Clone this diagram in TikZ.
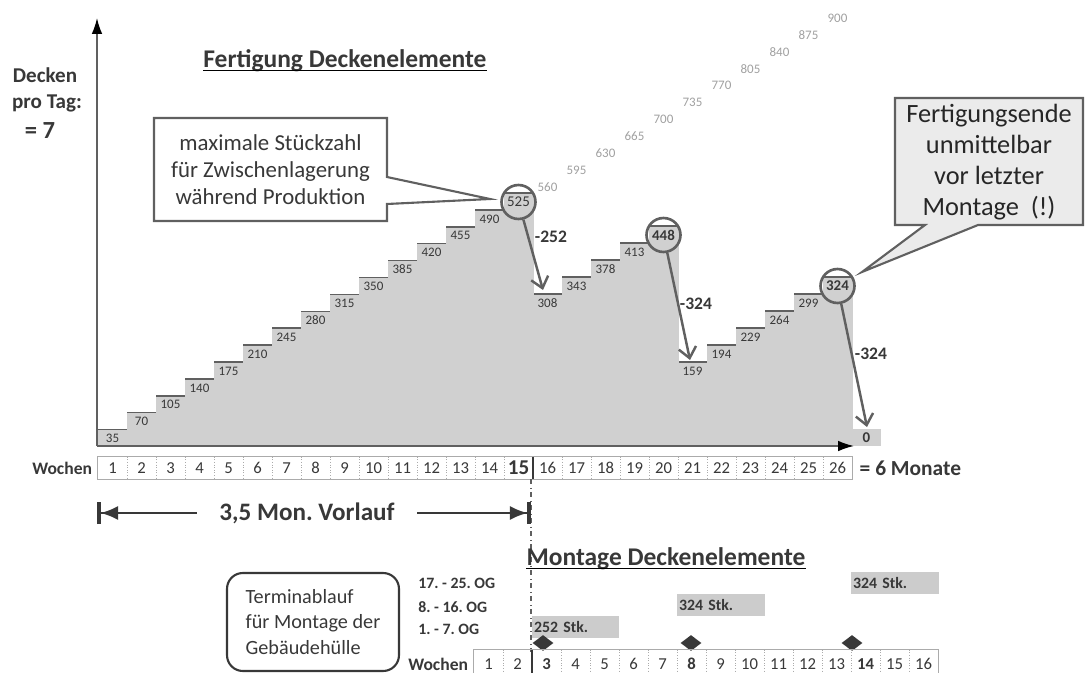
\documentclass[tikz,border=0pt]{standalone}
\usepackage{fontspec}
\setmainfont{Carlito}
\usetikzlibrary{arrows.meta,positioning,shapes.geometric}

\definecolor{barfill}{HTML}{D0D0D0}
\definecolor{linegray}{HTML}{606060}
\definecolor{txtgray}{HTML}{383838}
\definecolor{ghostgray}{HTML}{A0A0A0}
\definecolor{notefill}{HTML}{EBEBEB}
\definecolor{ganttfill}{HTML}{CCCCCC}
\definecolor{cellgray}{HTML}{ABABAB}

\newcommand{\fs}[2]{\fontsize{#1}{#2}\selectfont}

\begin{document}
\frenchspacing
\begin{tikzpicture}[x=0.02cm,y=-0.02cm,
    barlbl/.style={font=\fs{7.4}{8},text=txtgray,inner sep=0pt},
    peaklbl/.style={font=\fs{8.5}{9},text=txtgray,inner sep=0pt},
    ghost/.style={font=\fs{7.4}{8},text=ghostgray,inner sep=0pt},
    steptop/.style={draw=linegray,line width=0.9pt},
    ring/.style={circle,draw=linegray,line width=1.5pt,minimum size=0.68cm,inner sep=0pt},
    drop/.style={draw=linegray,line width=1.4pt,-{Straight Barb[length=6pt,width=10pt]}},
    dropval/.style={font=\bfseries\fs{10}{12},text=txtgray,inner sep=0pt},
    wk/.style={minimum width=0.58cm,minimum height=0.44cm,inner sep=0pt,font=\fs{9.5}{10},text=txtgray},
    sep/.style={draw=cellgray,densely dotted,line width=0.5pt},
    lbl/.style={font=\bfseries\fs{#1}{#1},text=txtgray,inner sep=0pt},
    note/.style={draw=linegray,line width=1.2pt},
    gantt/.style={fill=ganttfill,anchor=north west,minimum height=0.44cm,inner xsep=1pt,inner ysep=0pt,align=left,font=\bfseries\fs{9}{10},text=txtgray},
    og/.style={anchor=west,inner sep=0pt,font=\bfseries\fs{9}{10},text=txtgray},
    vor/.style={draw=txtgray,line width=1.2pt}
  ]
  \useasboundingbox (0,0) rectangle (1086,673);
  \clip (0,0) rectangle (1086,673);

  % Stufen der Fertigung
  \foreach \w in {1,...,14}{
    \pgfmathsetmacro\xl{98+29*(\w-1)}
    \pgfmathsetmacro\yt{429.6-16.9*(\w-1)}
    \pgfmathtruncatemacro\v{35*\w}
    \fill[barfill] (\xl,\yt) rectangle (\xl+29.5,446);
    \draw[steptop] (\xl,\yt) -- (\xl+29,\yt);
    \node[barlbl] (b\w) at (\xl+14.5,\yt+9) {\v};
  }
  \foreach \w/\v/\yt in {16/308/294,17/343/277,18/378/260,19/413/243,
                         21/159/362,22/194/345,23/229/328,24/264/311,25/299/294}{
    \pgfmathsetmacro\xl{98+29*(\w-1)}
    \fill[barfill] (\xl,\yt) rectangle (\xl+29.5,446);
    \draw[steptop] (\xl,\yt) -- (\xl+29,\yt);
    \node[barlbl] (b\w) at (\xl+14.5,\yt+9) {\v};
  }
  \foreach \w/\v/\yt/\wt in {15/525/193/\mdseries,20/448/226/\bfseries,26/324/277/\bfseries}{
    \pgfmathsetmacro\xl{98+29*(\w-1)}
    \fill[barfill] (\xl,\yt) rectangle (\xl+29.5,446);
    \draw[steptop] (\xl,\yt) -- (\xl+29,\yt);
    \node[peaklbl] (b\w) at (\xl+14.5,\yt+9) {\wt\v};
  }
  \fill[barfill] (852,429) rectangle (881,446);
  \node[peaklbl] (b27) at (866.5,438) {\bfseries 0};

  % Achsen
  \coordinate (o) at (97,446);
  \coordinate (ytop) at (97,18);
  \coordinate (xend) at (854,446);
  \draw[linegray,line width=0.9pt,-{Latex[length=9pt,width=6pt,color=black]}] (o) -- (ytop);
  \draw[linegray,line width=0.9pt,-{Latex[length=9pt,width=6pt,color=black]}] (o) -- (xend);

  % theoretische Werte ohne Montage
  \foreach \w/\v in {16/560,17/595,18/630,19/665,20/700,21/735,22/770,23/805,24/840,25/875,26/900}
    \node[ghost] (g\w) at ({98+29*(\w-0.5)},{187-16.9*(\w-16)}) {\v};

  \node[lbl=12,anchor=base] (dk) at (45,82) {Decken};
  \node[lbl=12,anchor=base] (pt) at (47,108) {pro Tag:};
  \node[lbl=14,anchor=base] (sv) at (40,138) {= 7};

  \node[lbl=14.5,anchor=base] (ft) at (345,67) {Fertigung Deckenelemente};
  \draw[line width=0.8pt] ([yshift=-2pt]ft.base west) -- ([yshift=-2pt]ft.base east);

  % Hinweise
  \coordinate (t1) at (490,199);
  \draw[note,fill=white] (154,118) -- (387,118) -- (387,177) -- (t1) -- (387,204) -- (387,221) -- (154,221) -- cycle;
  \node[align=center,font=\fs{13}{15.5},text=txtgray] (n1) at (270.5,169.5) {maximale Stückzahl\\für Zwischenlagerung\\während Produktion};

  \coordinate (t2) at (862,272);
  \draw[note,fill=notefill] (895,98) -- (1083,98) -- (1083,225) -- (978,225) -- (t2) -- (925,225) -- (895,225) -- cycle;
  \node[align=center,font=\fs{15}{17.6},text=black!85] (n2) at (989,162) {Fertigungsende\\unmittelbar\\vor letzter\\Montage~~(!)};

  % Montageabzug
  \foreach \w in {15,20,26}
    \node[ring] (c\w) at (b\w) {};
  \coordinate (a16) at (543,290);
  \coordinate (a21) at (690,360);
  \coordinate (a27) at (867,427);
  \draw[drop] (c15) -- (a16);
  \draw[drop] (c20) -- (a21);
  \draw[drop] (c26) -- (a27);
  \node[dropval] (d1) at (551,237) {-252};
  \node[dropval] (d2) at (696,304) {-324};
  \node[dropval] (d3) at (871,354) {-324};

  % Wochen Fertigung
  \foreach \w in {1,...,26}
    \node[wk] (w\w) at ({98+29*(\w-0.5)},468) {\ifnum\w=15 \bfseries\fs{12}{12}\fi\w};
  \foreach \w in {1,...,25}
    \draw[sep] (w\w.north east) -- (w\w.south east);
  \draw[cellgray,line width=0.6pt] (w1.north west) rectangle (w26.south east);
  \draw[txtgray,line width=1.2pt] (w15.north east) -- (w15.south east);
  \node[lbl=10] (wl) [left=3pt of w1] {Wochen};
  \node[lbl=12.2] (mon) [right=4pt of w26] {= 6 Monate};

  % Vorlauf
  \coordinate (dd1) at (531,479);
  \coordinate (dd2) at (531,652);
  \draw[linegray,dash dot,line width=0.6pt] (dd1) -- (dd2);
  \coordinate (vl) at (97,513);
  \coordinate (vr) at (531,513);
  \node[lbl=14.3,inner xsep=0.45cm] (vt) at (307,513) {3,5 Mon. Vorlauf};
  \draw[vor,-{Latex[length=10pt,width=8pt]Bar[width=0.44cm,line width=2pt]}] (vt) -- (vl);
  \draw[vor,-{Latex[length=10pt,width=8pt]Bar[width=0.44cm,line width=2pt]}] (vt) -- (vr);

  % Montage
  \node[lbl=14.5,anchor=base] (mt) at (666,565) {Montage Deckenelemente};
  \draw[line width=0.8pt] ([yshift=-2pt]mt.base west) -- ([yshift=-2pt]mt.base east);

  \node[draw=txtgray,line width=1.2pt,rounded corners=9pt,minimum height=1.96cm,minimum width=3.44cm,align=left,font=\fs{11.5}{14.5},text=txtgray] (tb) at (313,622) {Terminablauf\\für Montage der\\Gebäudehülle};

  \node[og] (r3) at (418,583) {17. - 25. OG};
  \node[og] (r2) at (418,607) {8. - 16. OG};
  \node[og] (r1) at (418,629) {1. - 7. OG};

  \node[gantt,text width=1.67cm] (s1) at (532,616) {252 Stk.};
  \node[gantt,text width=1.69cm] (s2) at (677,594) {324 Stk.};
  \node[gantt,text width=1.69cm] (s3) at (851,572) {324 Stk.};

  \foreach \k/\kx in {1/543,2/691,3/852}
    \node[diamond,fill=txtgray,aspect=1.33,minimum width=0.42cm,minimum height=0.32cm,inner sep=0pt] (k\k) at (\kx,643) {};

  \foreach \k in {1,...,16}
    \node[wk,minimum height=0.56cm] (m\k) at ({474+29*(\k-0.5)},664) {\ifnum\k=3 \bfseries\fi\ifnum\k=8 \bfseries\fi\ifnum\k=14 \bfseries\fi\k};
  \foreach \k in {1,...,15}
    \draw[sep] (m\k.north east) -- (m\k.south east);
  \draw[cellgray,line width=0.6pt] (m1.north west) rectangle (m16.south east);
  \draw[txtgray,line width=1pt] (m3.north west) -- (m3.south west);
  \node[lbl=10] (wl2) [left=3pt of m1] {Wochen};
\end{tikzpicture}
\end{document}
